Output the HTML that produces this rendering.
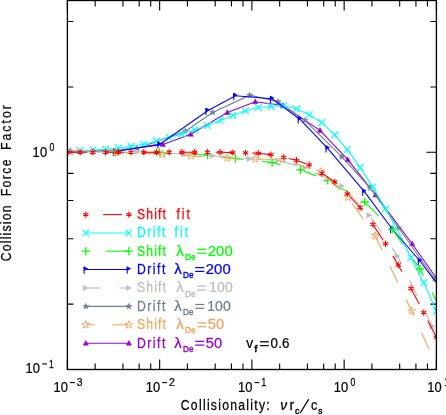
<!DOCTYPE html>
<html><head><meta charset="utf-8"><title>Collision Force Factor</title>
<style>html,body{margin:0;padding:0;background:#fff;}body{width:446px;height:415px;overflow:hidden;}svg{display:block;}text{font-family:"Liberation Sans",sans-serif;}</style></head><body>
<svg width="446" height="415" viewBox="0 0 446 415">
<rect width="446" height="415" fill="#fff"/>
<defs><clipPath id="cp"><rect x="67.40" y="0.50" width="369.00" height="369.00"/></clipPath></defs>
<path d="M67.40 369.50 v-10.00 M67.40 0.50 v10.00 M95.17 369.50 v-6.00 M95.17 0.50 v6.00 M122.94 369.50 v-6.00 M122.94 0.50 v6.00 M139.18 369.50 v-6.00 M139.18 0.50 v6.00 M150.71 369.50 v-6.00 M150.71 0.50 v6.00 M159.65 369.50 v-10.00 M159.65 0.50 v10.00 M187.42 369.50 v-6.00 M187.42 0.50 v6.00 M215.19 369.50 v-6.00 M215.19 0.50 v6.00 M231.43 369.50 v-6.00 M231.43 0.50 v6.00 M242.96 369.50 v-6.00 M242.96 0.50 v6.00 M251.90 369.50 v-10.00 M251.90 0.50 v10.00 M279.67 369.50 v-6.00 M279.67 0.50 v6.00 M307.44 369.50 v-6.00 M307.44 0.50 v6.00 M323.68 369.50 v-6.00 M323.68 0.50 v6.00 M335.21 369.50 v-6.00 M335.21 0.50 v6.00 M344.15 369.50 v-10.00 M344.15 0.50 v10.00 M371.92 369.50 v-6.00 M371.92 0.50 v6.00 M399.69 369.50 v-6.00 M399.69 0.50 v6.00 M415.93 369.50 v-6.00 M415.93 0.50 v6.00 M427.46 369.50 v-6.00 M427.46 0.50 v6.00 M436.40 369.50 v-10.00 M436.40 0.50 v10.00 M67.40 369.50 h10.00 M436.40 369.50 h-10.00 M67.40 304.12 h6.00 M436.40 304.12 h-6.00 M67.40 238.74 h6.00 M436.40 238.74 h-6.00 M67.40 200.49 h6.00 M436.40 200.49 h-6.00 M67.40 173.36 h6.00 M436.40 173.36 h-6.00 M67.40 152.31 h10.00 M436.40 152.31 h-10.00 M67.40 86.93 h6.00 M436.40 86.93 h-6.00 M67.40 21.55 h6.00 M436.40 21.55 h-6.00 " stroke="#000" stroke-width="1.1" fill="none"/>
<g clip-path="url(#cp)">
<path d="M70.50 151.20 L114.60 151.00 L162.80 144.40 L190.80 134.30 L227.30 112.50 L255.30 101.70 L282.90 105.50 L320.00 130.40 L347.80 159.70 L375.60 194.90 L412.10 243.70 L439.90 283.00" fill="none" stroke="#9400d3" stroke-width="1.10"/>
<path d="M70.50 148.40 L73.10 153.20 L67.90 153.20 Z" fill="#9400d3" stroke="#9400d3" stroke-width="0.5"/>
<path d="M114.60 148.20 L117.20 153.00 L112.00 153.00 Z" fill="#9400d3" stroke="#9400d3" stroke-width="0.5"/>
<path d="M162.80 141.60 L165.40 146.40 L160.20 146.40 Z" fill="#9400d3" stroke="#9400d3" stroke-width="0.5"/>
<path d="M190.80 131.50 L193.40 136.30 L188.20 136.30 Z" fill="#9400d3" stroke="#9400d3" stroke-width="0.5"/>
<path d="M227.30 109.70 L229.90 114.50 L224.70 114.50 Z" fill="#9400d3" stroke="#9400d3" stroke-width="0.5"/>
<path d="M255.30 98.90 L257.90 103.70 L252.70 103.70 Z" fill="#9400d3" stroke="#9400d3" stroke-width="0.5"/>
<path d="M282.90 102.70 L285.50 107.50 L280.30 107.50 Z" fill="#9400d3" stroke="#9400d3" stroke-width="0.5"/>
<path d="M320.00 127.60 L322.60 132.40 L317.40 132.40 Z" fill="#9400d3" stroke="#9400d3" stroke-width="0.5"/>
<path d="M347.80 156.90 L350.40 161.70 L345.20 161.70 Z" fill="#9400d3" stroke="#9400d3" stroke-width="0.5"/>
<path d="M375.60 192.10 L378.20 196.90 L373.00 196.90 Z" fill="#9400d3" stroke="#9400d3" stroke-width="0.5"/>
<path d="M412.10 240.90 L414.70 245.70 L409.50 245.70 Z" fill="#9400d3" stroke="#9400d3" stroke-width="0.5"/>
<path d="M439.90 280.20 L442.50 285.00 L437.30 285.00 Z" fill="#9400d3" stroke="#9400d3" stroke-width="0.5"/>
<path d="M93.00 151.30 L137.10 148.40 L185.30 131.20 L212.70 112.50 L249.70 95.20 L278.10 101.70 L305.00 120.40 L341.90 156.80 L370.00 187.80 L398.70 228.00 L434.60 278.50 L462.00 320.00" fill="none" stroke="#708090" stroke-width="1.10"/>
<path d="M93.00 148.10 L93.79 150.21 L96.04 150.31 L94.28 151.72 L94.88 153.89 L93.00 152.64 L91.12 153.89 L91.72 151.72 L89.96 150.31 L92.21 150.21 Z" fill="#708090" stroke="#708090" stroke-width="0.5"/>
<path d="M137.10 145.20 L137.89 147.31 L140.14 147.41 L138.38 148.82 L138.98 150.99 L137.10 149.74 L135.22 150.99 L135.82 148.82 L134.06 147.41 L136.31 147.31 Z" fill="#708090" stroke="#708090" stroke-width="0.5"/>
<path d="M185.30 128.00 L186.09 130.11 L188.34 130.21 L186.58 131.62 L187.18 133.79 L185.30 132.54 L183.42 133.79 L184.02 131.62 L182.26 130.21 L184.51 130.11 Z" fill="#708090" stroke="#708090" stroke-width="0.5"/>
<path d="M212.70 109.30 L213.49 111.41 L215.74 111.51 L213.98 112.92 L214.58 115.09 L212.70 113.84 L210.82 115.09 L211.42 112.92 L209.66 111.51 L211.91 111.41 Z" fill="#708090" stroke="#708090" stroke-width="0.5"/>
<path d="M249.70 92.00 L250.49 94.11 L252.74 94.21 L250.98 95.62 L251.58 97.79 L249.70 96.54 L247.82 97.79 L248.42 95.62 L246.66 94.21 L248.91 94.11 Z" fill="#708090" stroke="#708090" stroke-width="0.5"/>
<path d="M278.10 98.50 L278.89 100.61 L281.14 100.71 L279.38 102.12 L279.98 104.29 L278.10 103.04 L276.22 104.29 L276.82 102.12 L275.06 100.71 L277.31 100.61 Z" fill="#708090" stroke="#708090" stroke-width="0.5"/>
<path d="M305.00 117.20 L305.79 119.31 L308.04 119.41 L306.28 120.82 L306.88 122.99 L305.00 121.74 L303.12 122.99 L303.72 120.82 L301.96 119.41 L304.21 119.31 Z" fill="#708090" stroke="#708090" stroke-width="0.5"/>
<path d="M341.90 153.60 L342.69 155.71 L344.94 155.81 L343.18 157.22 L343.78 159.39 L341.90 158.14 L340.02 159.39 L340.62 157.22 L338.86 155.81 L341.11 155.71 Z" fill="#708090" stroke="#708090" stroke-width="0.5"/>
<path d="M370.00 184.60 L370.79 186.71 L373.04 186.81 L371.28 188.22 L371.88 190.39 L370.00 189.14 L368.12 190.39 L368.72 188.22 L366.96 186.81 L369.21 186.71 Z" fill="#708090" stroke="#708090" stroke-width="0.5"/>
<path d="M398.70 224.80 L399.49 226.91 L401.74 227.01 L399.98 228.42 L400.58 230.59 L398.70 229.34 L396.82 230.59 L397.42 228.42 L395.66 227.01 L397.91 226.91 Z" fill="#708090" stroke="#708090" stroke-width="0.5"/>
<path d="M434.60 275.30 L435.39 277.41 L437.64 277.51 L435.88 278.92 L436.48 281.09 L434.60 279.84 L432.72 281.09 L433.32 278.92 L431.56 277.51 L433.81 277.41 Z" fill="#708090" stroke="#708090" stroke-width="0.5"/>
<path d="M462.00 316.80 L462.79 318.91 L465.04 319.01 L463.28 320.42 L463.88 322.59 L462.00 321.34 L460.12 322.59 L460.72 320.42 L458.96 319.01 L461.21 318.91 Z" fill="#708090" stroke="#708090" stroke-width="0.5"/>
<path d="M67.40 150.70 L80.12 150.50 L92.85 150.00 L105.58 149.20 L118.30 148.00 L131.03 146.40 L143.75 144.30 L156.48 141.00 L169.20 137.50 L181.93 133.90 L194.65 129.80 L207.38 125.50 L220.10 120.40 L232.82 115.40 L245.55 110.80 L258.27 107.50 L271.00 106.50 L283.73 105.80 L296.45 108.70 L309.18 114.80 L321.90 122.60 L334.62 134.90 L347.35 149.60 L360.08 167.40 L372.80 187.10 L385.52 208.70 L398.25 231.40 L410.98 257.80 L423.70 282.80 L436.42 311.00" fill="none" stroke="#00ffff" stroke-width="1.10"/>
<path d="M64.00 147.30 L70.80 154.10 M64.00 154.10 L70.80 147.30" stroke="#00ffff" stroke-width="1.2" fill="none"/>
<path d="M76.72 147.10 L83.53 153.90 M76.72 153.90 L83.53 147.10" stroke="#00ffff" stroke-width="1.2" fill="none"/>
<path d="M89.45 146.60 L96.25 153.40 M89.45 153.40 L96.25 146.60" stroke="#00ffff" stroke-width="1.2" fill="none"/>
<path d="M102.17 145.80 L108.98 152.60 M102.17 152.60 L108.98 145.80" stroke="#00ffff" stroke-width="1.2" fill="none"/>
<path d="M114.90 144.60 L121.70 151.40 M114.90 151.40 L121.70 144.60" stroke="#00ffff" stroke-width="1.2" fill="none"/>
<path d="M127.62 143.00 L134.43 149.80 M127.62 149.80 L134.43 143.00" stroke="#00ffff" stroke-width="1.2" fill="none"/>
<path d="M140.35 140.90 L147.15 147.70 M140.35 147.70 L147.15 140.90" stroke="#00ffff" stroke-width="1.2" fill="none"/>
<path d="M153.08 137.60 L159.88 144.40 M153.08 144.40 L159.88 137.60" stroke="#00ffff" stroke-width="1.2" fill="none"/>
<path d="M165.80 134.10 L172.60 140.90 M165.80 140.90 L172.60 134.10" stroke="#00ffff" stroke-width="1.2" fill="none"/>
<path d="M178.53 130.50 L185.33 137.30 M178.53 137.30 L185.33 130.50" stroke="#00ffff" stroke-width="1.2" fill="none"/>
<path d="M191.25 126.40 L198.05 133.20 M191.25 133.20 L198.05 126.40" stroke="#00ffff" stroke-width="1.2" fill="none"/>
<path d="M203.97 122.10 L210.78 128.90 M203.97 128.90 L210.78 122.10" stroke="#00ffff" stroke-width="1.2" fill="none"/>
<path d="M216.70 117.00 L223.50 123.80 M216.70 123.80 L223.50 117.00" stroke="#00ffff" stroke-width="1.2" fill="none"/>
<path d="M229.42 112.00 L236.22 118.80 M229.42 118.80 L236.22 112.00" stroke="#00ffff" stroke-width="1.2" fill="none"/>
<path d="M242.15 107.40 L248.95 114.20 M242.15 114.20 L248.95 107.40" stroke="#00ffff" stroke-width="1.2" fill="none"/>
<path d="M254.87 104.10 L261.67 110.90 M254.87 110.90 L261.67 104.10" stroke="#00ffff" stroke-width="1.2" fill="none"/>
<path d="M267.60 103.10 L274.40 109.90 M267.60 109.90 L274.40 103.10" stroke="#00ffff" stroke-width="1.2" fill="none"/>
<path d="M280.33 102.40 L287.12 109.20 M280.33 109.20 L287.12 102.40" stroke="#00ffff" stroke-width="1.2" fill="none"/>
<path d="M293.05 105.30 L299.85 112.10 M293.05 112.10 L299.85 105.30" stroke="#00ffff" stroke-width="1.2" fill="none"/>
<path d="M305.78 111.40 L312.57 118.20 M305.78 118.20 L312.57 111.40" stroke="#00ffff" stroke-width="1.2" fill="none"/>
<path d="M318.50 119.20 L325.30 126.00 M318.50 126.00 L325.30 119.20" stroke="#00ffff" stroke-width="1.2" fill="none"/>
<path d="M331.23 131.50 L338.02 138.30 M331.23 138.30 L338.02 131.50" stroke="#00ffff" stroke-width="1.2" fill="none"/>
<path d="M343.95 146.20 L350.75 153.00 M343.95 153.00 L350.75 146.20" stroke="#00ffff" stroke-width="1.2" fill="none"/>
<path d="M356.68 164.00 L363.48 170.80 M356.68 170.80 L363.48 164.00" stroke="#00ffff" stroke-width="1.2" fill="none"/>
<path d="M369.40 183.70 L376.20 190.50 M369.40 190.50 L376.20 183.70" stroke="#00ffff" stroke-width="1.2" fill="none"/>
<path d="M382.12 205.30 L388.92 212.10 M382.12 212.10 L388.92 205.30" stroke="#00ffff" stroke-width="1.2" fill="none"/>
<path d="M407.58 254.40 L414.38 261.20 M407.58 261.20 L414.38 254.40" stroke="#00ffff" stroke-width="1.2" fill="none"/>
<path d="M420.30 279.40 L427.10 286.20 M420.30 286.20 L427.10 279.40" stroke="#00ffff" stroke-width="1.2" fill="none"/>
<path d="M433.02 307.60 L439.82 314.40 M433.02 314.40 L439.82 307.60" stroke="#00ffff" stroke-width="1.2" fill="none"/>
<path d="M115.30 151.50 L159.60 144.40 L207.60 110.70 L235.40 95.80 L272.10 98.80 L299.90 119.20 L327.70 148.40 L364.40 191.60 L392.20 229.00 L420.00 261.00 L456.60 309.60" fill="none" stroke="#0000ff" stroke-width="1.10"/>
<path d="M113.60 148.80 L113.60 155.70" stroke="#0000ff" stroke-width="1.1" fill="none"/><path d="M113.60 148.80 L117.10 150.60 L113.60 152.50 Z" fill="#0000ff" stroke="#0000ff" stroke-width="0.6"/>
<path d="M157.90 141.70 L157.90 148.60" stroke="#0000ff" stroke-width="1.1" fill="none"/><path d="M157.90 141.70 L161.40 143.50 L157.90 145.40 Z" fill="#0000ff" stroke="#0000ff" stroke-width="0.6"/>
<path d="M205.90 108.00 L205.90 114.90" stroke="#0000ff" stroke-width="1.1" fill="none"/><path d="M205.90 108.00 L209.40 109.80 L205.90 111.70 Z" fill="#0000ff" stroke="#0000ff" stroke-width="0.6"/>
<path d="M233.70 93.10 L233.70 100.00" stroke="#0000ff" stroke-width="1.1" fill="none"/><path d="M233.70 93.10 L237.20 94.90 L233.70 96.80 Z" fill="#0000ff" stroke="#0000ff" stroke-width="0.6"/>
<path d="M270.40 96.10 L270.40 103.00" stroke="#0000ff" stroke-width="1.1" fill="none"/><path d="M270.40 96.10 L273.90 97.90 L270.40 99.80 Z" fill="#0000ff" stroke="#0000ff" stroke-width="0.6"/>
<path d="M298.20 116.50 L298.20 123.40" stroke="#0000ff" stroke-width="1.1" fill="none"/><path d="M298.20 116.50 L301.70 118.30 L298.20 120.20 Z" fill="#0000ff" stroke="#0000ff" stroke-width="0.6"/>
<path d="M326.00 145.70 L326.00 152.60" stroke="#0000ff" stroke-width="1.1" fill="none"/><path d="M326.00 145.70 L329.50 147.50 L326.00 149.40 Z" fill="#0000ff" stroke="#0000ff" stroke-width="0.6"/>
<path d="M362.70 188.90 L362.70 195.80" stroke="#0000ff" stroke-width="1.1" fill="none"/><path d="M362.70 188.90 L366.20 190.70 L362.70 192.60 Z" fill="#0000ff" stroke="#0000ff" stroke-width="0.6"/>
<path d="M390.50 226.30 L390.50 233.20" stroke="#0000ff" stroke-width="1.1" fill="none"/><path d="M390.50 226.30 L394.00 228.10 L390.50 230.00 Z" fill="#0000ff" stroke="#0000ff" stroke-width="0.6"/>
<path d="M418.30 258.30 L418.30 265.20" stroke="#0000ff" stroke-width="1.1" fill="none"/><path d="M418.30 258.30 L421.80 260.10 L418.30 262.00 Z" fill="#0000ff" stroke="#0000ff" stroke-width="0.6"/>
<path d="M454.90 306.90 L454.90 313.80" stroke="#0000ff" stroke-width="1.1" fill="none"/><path d="M454.90 306.90 L458.40 308.70 L454.90 310.60 Z" fill="#0000ff" stroke="#0000ff" stroke-width="0.6"/>
<path d="M115.30 152.20 L159.60 152.40 L207.60 155.10 L235.40 158.50 L272.10 162.50 L300.50 169.80 L327.70 180.40 L364.60 202.00 L392.20 229.10 L420.00 269.00 L456.60 340.00" fill="none" stroke="#00ff00" stroke-width="1.10" stroke-dasharray="18.6 18.9" stroke-dashoffset="2.75"/>
<path d="M111.10 152.20 L119.50 152.20 M115.30 148.00 L115.30 156.40" stroke="#00ff00" stroke-width="1.3" fill="none"/>
<path d="M155.40 152.40 L163.80 152.40 M159.60 148.20 L159.60 156.60" stroke="#00ff00" stroke-width="1.3" fill="none"/>
<path d="M203.40 155.10 L211.80 155.10 M207.60 150.90 L207.60 159.30" stroke="#00ff00" stroke-width="1.3" fill="none"/>
<path d="M231.20 158.50 L239.60 158.50 M235.40 154.30 L235.40 162.70" stroke="#00ff00" stroke-width="1.3" fill="none"/>
<path d="M267.90 162.50 L276.30 162.50 M272.10 158.30 L272.10 166.70" stroke="#00ff00" stroke-width="1.3" fill="none"/>
<path d="M296.30 169.80 L304.70 169.80 M300.50 165.60 L300.50 174.00" stroke="#00ff00" stroke-width="1.3" fill="none"/>
<path d="M323.50 180.40 L331.90 180.40 M327.70 176.20 L327.70 184.60" stroke="#00ff00" stroke-width="1.3" fill="none"/>
<path d="M360.40 202.00 L368.80 202.00 M364.60 197.80 L364.60 206.20" stroke="#00ff00" stroke-width="1.3" fill="none"/>
<path d="M388.00 229.10 L396.40 229.10 M392.20 224.90 L392.20 233.30" stroke="#00ff00" stroke-width="1.3" fill="none"/>
<path d="M415.80 269.00 L424.20 269.00 M420.00 264.80 L420.00 273.20" stroke="#00ff00" stroke-width="1.3" fill="none"/>
<path d="M452.40 340.00 L460.80 340.00 M456.60 335.80 L456.60 344.20" stroke="#00ff00" stroke-width="1.3" fill="none"/>
<path d="M93.00 152.20 L137.10 151.90 L185.30 154.30 L212.70 155.80 L249.50 158.90 L278.10 160.50 L305.00 168.00 L342.00 186.00 L369.50 215.20 L397.60 256.00 L432.30 326.00 L460.00 385.00" fill="none" stroke="#bebebe" stroke-width="1.10" stroke-dasharray="18.0 18.7" stroke-dashoffset="32.81"/>
<path d="M90.40 149.40 L95.50 152.20 L90.40 155.00 Z" fill="#bebebe" stroke="#bebebe" stroke-width="0.5"/>
<path d="M134.50 149.10 L139.60 151.90 L134.50 154.70 Z" fill="#bebebe" stroke="#bebebe" stroke-width="0.5"/>
<path d="M182.70 151.50 L187.80 154.30 L182.70 157.10 Z" fill="#bebebe" stroke="#bebebe" stroke-width="0.5"/>
<path d="M210.10 153.00 L215.20 155.80 L210.10 158.60 Z" fill="#bebebe" stroke="#bebebe" stroke-width="0.5"/>
<path d="M246.90 156.10 L252.00 158.90 L246.90 161.70 Z" fill="#bebebe" stroke="#bebebe" stroke-width="0.5"/>
<path d="M275.50 157.70 L280.60 160.50 L275.50 163.30 Z" fill="#bebebe" stroke="#bebebe" stroke-width="0.5"/>
<path d="M302.40 165.20 L307.50 168.00 L302.40 170.80 Z" fill="#bebebe" stroke="#bebebe" stroke-width="0.5"/>
<path d="M339.40 183.20 L344.50 186.00 L339.40 188.80 Z" fill="#bebebe" stroke="#bebebe" stroke-width="0.5"/>
<path d="M366.90 212.40 L372.00 215.20 L366.90 218.00 Z" fill="#bebebe" stroke="#bebebe" stroke-width="0.5"/>
<path d="M395.00 253.20 L400.10 256.00 L395.00 258.80 Z" fill="#bebebe" stroke="#bebebe" stroke-width="0.5"/>
<path d="M429.70 323.20 L434.80 326.00 L429.70 328.80 Z" fill="#bebebe" stroke="#bebebe" stroke-width="0.5"/>
<path d="M457.40 382.20 L462.50 385.00 L457.40 387.80 Z" fill="#bebebe" stroke="#bebebe" stroke-width="0.5"/>
<path d="M70.50 151.80 L114.60 152.20 L162.50 154.30 L191.00 156.00 L227.30 158.00 L255.20 158.90 L282.60 159.60 L320.50 171.80 L347.80 197.20 L375.10 235.90 L411.70 311.00 L439.50 372.00" fill="none" stroke="#f4a460" stroke-width="1.10" stroke-dasharray="18.4 18.3" stroke-dashoffset="33.18"/>
<path d="M70.50 147.60 L71.54 150.37 L74.49 150.50 L72.18 152.35 L72.97 155.20 L70.50 153.56 L68.03 155.20 L68.82 152.35 L66.51 150.50 L69.46 150.37 Z" fill="none" stroke="#f4a460" stroke-width="0.9"/>
<path d="M114.60 148.00 L115.64 150.77 L118.59 150.90 L116.28 152.75 L117.07 155.60 L114.60 153.96 L112.13 155.60 L112.92 152.75 L110.61 150.90 L113.56 150.77 Z" fill="none" stroke="#f4a460" stroke-width="0.9"/>
<path d="M162.50 150.10 L163.54 152.87 L166.49 153.00 L164.18 154.85 L164.97 157.70 L162.50 156.06 L160.03 157.70 L160.82 154.85 L158.51 153.00 L161.46 152.87 Z" fill="none" stroke="#f4a460" stroke-width="0.9"/>
<path d="M191.00 151.80 L192.04 154.57 L194.99 154.70 L192.68 156.55 L193.47 159.40 L191.00 157.76 L188.53 159.40 L189.32 156.55 L187.01 154.70 L189.96 154.57 Z" fill="none" stroke="#f4a460" stroke-width="0.9"/>
<path d="M227.30 153.80 L228.34 156.57 L231.29 156.70 L228.98 158.55 L229.77 161.40 L227.30 159.76 L224.83 161.40 L225.62 158.55 L223.31 156.70 L226.26 156.57 Z" fill="none" stroke="#f4a460" stroke-width="0.9"/>
<path d="M255.20 154.70 L256.24 157.47 L259.19 157.60 L256.88 159.45 L257.67 162.30 L255.20 160.66 L252.73 162.30 L253.52 159.45 L251.21 157.60 L254.16 157.47 Z" fill="none" stroke="#f4a460" stroke-width="0.9"/>
<path d="M282.60 155.40 L283.64 158.17 L286.59 158.30 L284.28 160.15 L285.07 163.00 L282.60 161.36 L280.13 163.00 L280.92 160.15 L278.61 158.30 L281.56 158.17 Z" fill="none" stroke="#f4a460" stroke-width="0.9"/>
<path d="M320.50 167.60 L321.54 170.37 L324.49 170.50 L322.18 172.35 L322.97 175.20 L320.50 173.56 L318.03 175.20 L318.82 172.35 L316.51 170.50 L319.46 170.37 Z" fill="none" stroke="#f4a460" stroke-width="0.9"/>
<path d="M347.80 193.00 L348.84 195.77 L351.79 195.90 L349.48 197.75 L350.27 200.60 L347.80 198.96 L345.33 200.60 L346.12 197.75 L343.81 195.90 L346.76 195.77 Z" fill="none" stroke="#f4a460" stroke-width="0.9"/>
<path d="M375.10 231.70 L376.14 234.47 L379.09 234.60 L376.78 236.45 L377.57 239.30 L375.10 237.66 L372.63 239.30 L373.42 236.45 L371.11 234.60 L374.06 234.47 Z" fill="none" stroke="#f4a460" stroke-width="0.9"/>
<path d="M411.70 306.80 L412.74 309.57 L415.69 309.70 L413.38 311.55 L414.17 314.40 L411.70 312.76 L409.23 314.40 L410.02 311.55 L407.71 309.70 L410.66 309.57 Z" fill="none" stroke="#f4a460" stroke-width="0.9"/>
<path d="M439.50 367.80 L440.54 370.57 L443.49 370.70 L441.18 372.55 L441.97 375.40 L439.50 373.76 L437.03 375.40 L437.82 372.55 L435.51 370.70 L438.46 370.57 Z" fill="none" stroke="#f4a460" stroke-width="0.9"/>
<path d="M67.40 152.20 L80.12 152.20 L92.85 152.20 L105.58 152.20 L118.30 152.20 L131.03 152.20 L143.75 152.20 L156.48 152.20 L169.20 152.20 L181.93 152.20 L194.65 152.20 L207.38 152.20 L220.10 152.30 L232.82 152.60 L245.55 152.90 L258.27 153.30 L271.00 154.70 L283.73 157.40 L296.45 160.30 L309.18 164.80 L321.90 173.20 L334.62 181.90 L347.35 193.80 L360.08 207.50 L372.80 224.40 L385.52 243.70 L398.25 265.00 L410.98 288.40 L423.70 312.60 L436.42 337.30" fill="none" stroke="#ff0000" stroke-width="1.10" stroke-dasharray="18.3 18.4" stroke-dashoffset="35.20"/>
<path d="M67.40 149.00 L67.40 155.40 M64.75 150.79 L70.05 153.61 M70.05 150.79 L64.75 153.61 " stroke="#ff0000" stroke-width="1.1" fill="none"/>
<path d="M80.12 149.00 L80.12 155.40 M77.48 150.79 L82.77 153.61 M82.77 150.79 L77.48 153.61 " stroke="#ff0000" stroke-width="1.1" fill="none"/>
<path d="M92.85 149.00 L92.85 155.40 M90.20 150.79 L95.50 153.61 M95.50 150.79 L90.20 153.61 " stroke="#ff0000" stroke-width="1.1" fill="none"/>
<path d="M105.58 149.00 L105.58 155.40 M102.93 150.79 L108.22 153.61 M108.22 150.79 L102.93 153.61 " stroke="#ff0000" stroke-width="1.1" fill="none"/>
<path d="M118.30 149.00 L118.30 155.40 M115.65 150.79 L120.95 153.61 M120.95 150.79 L115.65 153.61 " stroke="#ff0000" stroke-width="1.1" fill="none"/>
<path d="M131.03 149.00 L131.03 155.40 M128.38 150.79 L133.67 153.61 M133.67 150.79 L128.38 153.61 " stroke="#ff0000" stroke-width="1.1" fill="none"/>
<path d="M143.75 149.00 L143.75 155.40 M141.10 150.79 L146.40 153.61 M146.40 150.79 L141.10 153.61 " stroke="#ff0000" stroke-width="1.1" fill="none"/>
<path d="M156.48 149.00 L156.48 155.40 M153.83 150.79 L159.12 153.61 M159.12 150.79 L153.83 153.61 " stroke="#ff0000" stroke-width="1.1" fill="none"/>
<path d="M169.20 149.00 L169.20 155.40 M166.55 150.79 L171.85 153.61 M171.85 150.79 L166.55 153.61 " stroke="#ff0000" stroke-width="1.1" fill="none"/>
<path d="M181.93 149.00 L181.93 155.40 M179.28 150.79 L184.57 153.61 M184.57 150.79 L179.28 153.61 " stroke="#ff0000" stroke-width="1.1" fill="none"/>
<path d="M194.65 149.00 L194.65 155.40 M192.00 150.79 L197.30 153.61 M197.30 150.79 L192.00 153.61 " stroke="#ff0000" stroke-width="1.1" fill="none"/>
<path d="M207.38 149.00 L207.38 155.40 M204.73 150.79 L210.02 153.61 M210.02 150.79 L204.73 153.61 " stroke="#ff0000" stroke-width="1.1" fill="none"/>
<path d="M220.10 149.10 L220.10 155.50 M217.45 150.89 L222.75 153.71 M222.75 150.89 L217.45 153.71 " stroke="#ff0000" stroke-width="1.1" fill="none"/>
<path d="M232.82 149.40 L232.82 155.80 M230.18 151.19 L235.47 154.01 M235.47 151.19 L230.18 154.01 " stroke="#ff0000" stroke-width="1.1" fill="none"/>
<path d="M245.55 149.70 L245.55 156.10 M242.90 151.49 L248.20 154.31 M248.20 151.49 L242.90 154.31 " stroke="#ff0000" stroke-width="1.1" fill="none"/>
<path d="M258.27 150.10 L258.27 156.50 M255.63 151.89 L260.92 154.71 M260.92 151.89 L255.63 154.71 " stroke="#ff0000" stroke-width="1.1" fill="none"/>
<path d="M271.00 151.50 L271.00 157.90 M268.35 153.29 L273.65 156.11 M273.65 153.29 L268.35 156.11 " stroke="#ff0000" stroke-width="1.1" fill="none"/>
<path d="M283.73 154.20 L283.73 160.60 M281.08 155.99 L286.37 158.81 M286.37 155.99 L281.08 158.81 " stroke="#ff0000" stroke-width="1.1" fill="none"/>
<path d="M296.45 157.10 L296.45 163.50 M293.80 158.89 L299.10 161.71 M299.10 158.89 L293.80 161.71 " stroke="#ff0000" stroke-width="1.1" fill="none"/>
<path d="M309.18 161.60 L309.18 168.00 M306.53 163.39 L311.82 166.21 M311.82 163.39 L306.53 166.21 " stroke="#ff0000" stroke-width="1.1" fill="none"/>
<path d="M321.90 170.00 L321.90 176.40 M319.25 171.79 L324.55 174.61 M324.55 171.79 L319.25 174.61 " stroke="#ff0000" stroke-width="1.1" fill="none"/>
<path d="M334.62 178.70 L334.62 185.10 M331.98 180.49 L337.27 183.31 M337.27 180.49 L331.98 183.31 " stroke="#ff0000" stroke-width="1.1" fill="none"/>
<path d="M347.35 190.60 L347.35 197.00 M344.70 192.39 L350.00 195.21 M350.00 192.39 L344.70 195.21 " stroke="#ff0000" stroke-width="1.1" fill="none"/>
<path d="M360.08 204.30 L360.08 210.70 M357.43 206.09 L362.72 208.91 M362.72 206.09 L357.43 208.91 " stroke="#ff0000" stroke-width="1.1" fill="none"/>
<path d="M372.80 221.20 L372.80 227.60 M370.15 222.99 L375.45 225.81 M375.45 222.99 L370.15 225.81 " stroke="#ff0000" stroke-width="1.1" fill="none"/>
<path d="M385.52 240.50 L385.52 246.90 M382.88 242.29 L388.17 245.11 M388.17 242.29 L382.88 245.11 " stroke="#ff0000" stroke-width="1.1" fill="none"/>
<path d="M398.25 261.80 L398.25 268.20 M395.60 263.59 L400.90 266.41 M400.90 263.59 L395.60 266.41 " stroke="#ff0000" stroke-width="1.1" fill="none"/>
<path d="M410.98 285.20 L410.98 291.60 M408.33 286.99 L413.62 289.81 M413.62 286.99 L408.33 289.81 " stroke="#ff0000" stroke-width="1.1" fill="none"/>
<path d="M423.70 309.40 L423.70 315.80 M421.05 311.19 L426.35 314.01 M426.35 311.19 L421.05 314.01 " stroke="#ff0000" stroke-width="1.1" fill="none"/>
<path d="M436.42 334.10 L436.42 340.50 M433.78 335.89 L439.07 338.71 M439.07 335.89 L433.78 338.71 " stroke="#ff0000" stroke-width="1.1" fill="none"/>
</g>
<g opacity="0.999">
<path d="M103.20 214.60 L122.10 214.60" stroke="#ff0000" stroke-width="1.10"/>
<path d="M85.80 211.40 L85.80 217.80 M83.15 213.19 L88.45 216.01 M88.45 213.19 L83.15 216.01 " stroke="#ff0000" stroke-width="1.1" fill="none"/>
<path d="M128.90 211.40 L128.90 217.80 M126.25 213.19 L131.55 216.01 M131.55 213.19 L126.25 216.01 " stroke="#ff0000" stroke-width="1.1" fill="none"/>
<text transform="translate(136.90 219.00) scale(0.8700 1)" font-size="14" fill="#ff0000" stroke="#ff0000" stroke-width="0.25" letter-spacing="1.359">Shift</text>
<text transform="translate(176.40 219.00) scale(0.8700 1)" font-size="14" fill="#ff0000" stroke="#ff0000" stroke-width="0.25" letter-spacing="2.370">fit</text>
<path d="M85.80 233.00 L128.90 233.00" stroke="#00ffff" stroke-width="1.10"/>
<path d="M82.40 229.60 L89.20 236.40 M82.40 236.40 L89.20 229.60" stroke="#00ffff" stroke-width="1.2" fill="none"/>
<path d="M125.50 229.60 L132.30 236.40 M125.50 236.40 L132.30 229.60" stroke="#00ffff" stroke-width="1.2" fill="none"/>
<text transform="translate(136.90 237.40) scale(0.8700 1)" font-size="14" fill="#00ffff" stroke="#00ffff" stroke-width="0.25" letter-spacing="1.745">Drift</text>
<text transform="translate(174.40 237.40) scale(0.8700 1)" font-size="14" fill="#00ffff" stroke="#00ffff" stroke-width="0.25" letter-spacing="2.485">fit</text>
<path d="M105.90 251.20 L128.90 251.20" stroke="#00ff00" stroke-width="1.10"/>
<path d="M81.60 251.20 L90.00 251.20 M85.80 247.00 L85.80 255.40" stroke="#00ff00" stroke-width="1.3" fill="none"/>
<path d="M124.70 251.20 L133.10 251.20 M128.90 247.00 L128.90 255.40" stroke="#00ff00" stroke-width="1.3" fill="none"/>
<text transform="translate(136.90 255.60) scale(0.8700 1)" font-size="14" fill="#00ff00" stroke="#00ff00" stroke-width="0.25" letter-spacing="1.359">Shift</text>
<text transform="translate(176.30 255.60) scale(1.0714 1)" font-size="14" fill="#00ff00" stroke="#00ff00" stroke-width="0.25" letter-spacing="0.000">λ</text>
<text transform="translate(184.90 259.80) scale(0.8543 1)" font-size="9.5" fill="#00ff00" stroke="#00ff00" stroke-width="0.45" letter-spacing="0.150">De</text>
<path d="M197.20 249.30 H206.30" stroke="#00ff00" stroke-width="1.25" fill="none"/><path d="M197.20 253.10 H206.30" stroke="#00ff00" stroke-width="1.25" fill="none"/>
<text transform="translate(207.70 255.60) scale(1.0612 1)" font-size="14" fill="#00ff00" stroke="#00ff00" stroke-width="0.25" letter-spacing="0.150">200</text>
<path d="M85.80 269.50 L128.90 269.50" stroke="#0000ff" stroke-width="1.10"/>
<path d="M84.10 266.80 L84.10 273.70" stroke="#0000ff" stroke-width="1.1" fill="none"/><path d="M84.10 266.80 L87.60 268.60 L84.10 270.50 Z" fill="#0000ff" stroke="#0000ff" stroke-width="0.6"/>
<path d="M127.20 266.80 L127.20 273.70" stroke="#0000ff" stroke-width="1.1" fill="none"/><path d="M127.20 266.80 L130.70 268.60 L127.20 270.50 Z" fill="#0000ff" stroke="#0000ff" stroke-width="0.6"/>
<text transform="translate(136.90 273.90) scale(0.8700 1)" font-size="14" fill="#0000ff" stroke="#0000ff" stroke-width="0.25" letter-spacing="1.745">Drift</text>
<text transform="translate(174.30 273.90) scale(1.0714 1)" font-size="14" fill="#0000ff" stroke="#0000ff" stroke-width="0.25" letter-spacing="0.000">λ</text>
<text transform="translate(182.90 278.10) scale(0.8543 1)" font-size="9.5" fill="#0000ff" stroke="#0000ff" stroke-width="0.45" letter-spacing="0.150">De</text>
<path d="M195.20 267.60 H204.30" stroke="#0000ff" stroke-width="1.25" fill="none"/><path d="M195.20 271.40 H204.30" stroke="#0000ff" stroke-width="1.25" fill="none"/>
<text transform="translate(205.70 273.90) scale(1.0612 1)" font-size="14" fill="#0000ff" stroke="#0000ff" stroke-width="0.25" letter-spacing="0.150">200</text>
<path d="M85.80 288.00 L100.90 288.00" stroke="#bebebe" stroke-width="1.10"/>
<path d="M119.00 288.00 L128.90 288.00" stroke="#bebebe" stroke-width="1.10"/>
<path d="M83.20 285.20 L88.30 288.00 L83.20 290.80 Z" fill="#bebebe" stroke="#bebebe" stroke-width="0.5"/>
<path d="M126.30 285.20 L131.40 288.00 L126.30 290.80 Z" fill="#bebebe" stroke="#bebebe" stroke-width="0.5"/>
<text transform="translate(136.90 292.40) scale(0.8700 1)" font-size="14" fill="#bebebe" stroke="#bebebe" stroke-width="0.25" letter-spacing="1.359">Shift</text>
<text transform="translate(176.30 292.40) scale(1.0714 1)" font-size="14" fill="#bebebe" stroke="#bebebe" stroke-width="0.25" letter-spacing="0.000">λ</text>
<text transform="translate(184.90 296.60) scale(0.8543 1)" font-size="9.5" fill="#bebebe" stroke="#bebebe" stroke-width="0.45" letter-spacing="0.150">De</text>
<path d="M197.20 286.10 H206.30" stroke="#bebebe" stroke-width="1.25" fill="none"/><path d="M197.20 289.90 H206.30" stroke="#bebebe" stroke-width="1.25" fill="none"/>
<text transform="translate(209.20 292.40) scale(0.9978 1)" font-size="14" fill="#bebebe" stroke="#bebebe" stroke-width="0.25" letter-spacing="0.150">100</text>
<path d="M85.80 306.40 L128.90 306.40" stroke="#708090" stroke-width="1.10"/>
<path d="M85.80 303.20 L86.59 305.31 L88.84 305.41 L87.08 306.82 L87.68 308.99 L85.80 307.74 L83.92 308.99 L84.52 306.82 L82.76 305.41 L85.01 305.31 Z" fill="#708090" stroke="#708090" stroke-width="0.5"/>
<path d="M128.90 303.20 L129.69 305.31 L131.94 305.41 L130.18 306.82 L130.78 308.99 L128.90 307.74 L127.02 308.99 L127.62 306.82 L125.86 305.41 L128.11 305.31 Z" fill="#708090" stroke="#708090" stroke-width="0.5"/>
<text transform="translate(136.90 310.80) scale(0.8700 1)" font-size="14" fill="#708090" stroke="#708090" stroke-width="0.25" letter-spacing="1.745">Drift</text>
<text transform="translate(174.30 310.80) scale(1.0714 1)" font-size="14" fill="#708090" stroke="#708090" stroke-width="0.25" letter-spacing="0.000">λ</text>
<text transform="translate(182.90 315.00) scale(0.8543 1)" font-size="9.5" fill="#708090" stroke="#708090" stroke-width="0.45" letter-spacing="0.150">De</text>
<path d="M195.20 304.50 H204.30" stroke="#708090" stroke-width="1.25" fill="none"/><path d="M195.20 308.30 H204.30" stroke="#708090" stroke-width="1.25" fill="none"/>
<text transform="translate(207.20 310.80) scale(0.9978 1)" font-size="14" fill="#708090" stroke="#708090" stroke-width="0.25" letter-spacing="0.150">100</text>
<path d="M85.80 324.80 L94.80 324.80" stroke="#f4a460" stroke-width="1.10"/>
<path d="M112.30 324.80 L128.90 324.80" stroke="#f4a460" stroke-width="1.10"/>
<path d="M85.80 320.60 L86.84 323.37 L89.79 323.50 L87.48 325.35 L88.27 328.20 L85.80 326.56 L83.33 328.20 L84.12 325.35 L81.81 323.50 L84.76 323.37 Z" fill="none" stroke="#f4a460" stroke-width="0.9"/>
<path d="M128.90 320.60 L129.94 323.37 L132.89 323.50 L130.58 325.35 L131.37 328.20 L128.90 326.56 L126.43 328.20 L127.22 325.35 L124.91 323.50 L127.86 323.37 Z" fill="none" stroke="#f4a460" stroke-width="0.9"/>
<text transform="translate(136.90 329.20) scale(0.8700 1)" font-size="14" fill="#f4a460" stroke="#f4a460" stroke-width="0.25" letter-spacing="1.359">Shift</text>
<text transform="translate(176.30 329.20) scale(1.0714 1)" font-size="14" fill="#f4a460" stroke="#f4a460" stroke-width="0.25" letter-spacing="0.000">λ</text>
<text transform="translate(184.90 333.40) scale(0.8543 1)" font-size="9.5" fill="#f4a460" stroke="#f4a460" stroke-width="0.45" letter-spacing="0.150">De</text>
<path d="M197.20 322.90 H206.30" stroke="#f4a460" stroke-width="1.25" fill="none"/><path d="M197.20 326.70 H206.30" stroke="#f4a460" stroke-width="1.25" fill="none"/>
<text transform="translate(207.70 329.20) scale(1.0498 1)" font-size="14" fill="#f4a460" stroke="#f4a460" stroke-width="0.25" letter-spacing="0.150">50</text>
<path d="M85.80 343.20 L128.90 343.20" stroke="#9400d3" stroke-width="1.10"/>
<path d="M85.80 340.40 L88.40 345.20 L83.20 345.20 Z" fill="#9400d3" stroke="#9400d3" stroke-width="0.5"/>
<path d="M128.90 340.40 L131.50 345.20 L126.30 345.20 Z" fill="#9400d3" stroke="#9400d3" stroke-width="0.5"/>
<text transform="translate(136.90 347.60) scale(0.8700 1)" font-size="14" fill="#9400d3" stroke="#9400d3" stroke-width="0.25" letter-spacing="1.745">Drift</text>
<text transform="translate(174.30 347.60) scale(1.0714 1)" font-size="14" fill="#9400d3" stroke="#9400d3" stroke-width="0.25" letter-spacing="0.000">λ</text>
<text transform="translate(182.90 351.80) scale(0.8543 1)" font-size="9.5" fill="#9400d3" stroke="#9400d3" stroke-width="0.45" letter-spacing="0.150">De</text>
<path d="M195.20 341.30 H204.30" stroke="#9400d3" stroke-width="1.25" fill="none"/><path d="M195.20 345.10 H204.30" stroke="#9400d3" stroke-width="1.25" fill="none"/>
<text transform="translate(205.70 347.60) scale(1.0498 1)" font-size="14" fill="#9400d3" stroke="#9400d3" stroke-width="0.25" letter-spacing="0.150">50</text>
<text transform="translate(246.30 348.10) scale(0.9857 1)" font-size="14" fill="#000" stroke="#000" stroke-width="0.25" letter-spacing="0.000">v</text>
<text transform="translate(254.20 352.30) scale(1.2030 1)" font-size="9.5" fill="#000" stroke="#000" stroke-width="0.45" letter-spacing="0.000">f</text>
<path d="M260.00 341.80 H268.80" stroke="#000" stroke-width="1.25" fill="none"/><path d="M260.00 345.60 H268.80" stroke="#000" stroke-width="1.25" fill="none"/>
<text transform="translate(270.60 348.10) scale(0.9514 1)" font-size="14" fill="#000" stroke="#000" stroke-width="0.25" letter-spacing="0.150">0.6</text>
<rect x="67.40" y="0.50" width="369.00" height="369.00" fill="none" stroke="#000" stroke-width="1.35"/>
<text transform="translate(53.45 392.00) scale(0.9225 1)" font-size="14" fill="#000" stroke="#000" stroke-width="0.25" letter-spacing="0.150">10</text><path d="M70.05 382.60 H74.85" stroke="#000" stroke-width="1.10" fill="none"/><text transform="translate(76.65 386.20) scale(0.9935 1)" font-size="10.5" fill="#000" stroke="#000" stroke-width="0.25" letter-spacing="0.000">3</text>
<text transform="translate(145.70 392.00) scale(0.9225 1)" font-size="14" fill="#000" stroke="#000" stroke-width="0.25" letter-spacing="0.150">10</text><path d="M162.30 382.60 H167.10" stroke="#000" stroke-width="1.10" fill="none"/><text transform="translate(168.90 386.20) scale(0.9935 1)" font-size="10.5" fill="#000" stroke="#000" stroke-width="0.25" letter-spacing="0.000">2</text>
<text transform="translate(237.95 392.00) scale(0.9225 1)" font-size="14" fill="#000" stroke="#000" stroke-width="0.25" letter-spacing="0.150">10</text><path d="M254.55 382.60 H259.35" stroke="#000" stroke-width="1.10" fill="none"/><text transform="translate(261.55 386.20) scale(0.8000 1)" font-size="10.5" fill="#000" stroke="#000" stroke-width="0.25" letter-spacing="0.000">1</text>
<text transform="translate(333.75 392.00) scale(0.9225 1)" font-size="14" fill="#000" stroke="#000" stroke-width="0.25" letter-spacing="0.150">10</text><text transform="translate(350.55 386.20) scale(0.8222 1)" font-size="10.5" fill="#000" stroke="#000" stroke-width="0.25" letter-spacing="0.000">0</text>
<text transform="translate(427.30 392.00) scale(0.9225 1)" font-size="14" fill="#000" stroke="#000" stroke-width="0.25" letter-spacing="0.150">10</text><text transform="translate(444.30 386.20) scale(0.8000 1)" font-size="10.5" fill="#000" stroke="#000" stroke-width="0.25" letter-spacing="0.000">1</text>
<text transform="translate(32.60 156.70) scale(0.9225 1)" font-size="14" fill="#000" stroke="#000" stroke-width="0.25" letter-spacing="0.150">10</text><text transform="translate(49.40 150.90) scale(0.8222 1)" font-size="10.5" fill="#000" stroke="#000" stroke-width="0.25" letter-spacing="0.000">0</text>
<text transform="translate(25.50 373.30) scale(0.9225 1)" font-size="14" fill="#000" stroke="#000" stroke-width="0.25" letter-spacing="0.150">10</text><path d="M42.10 363.90 H46.90" stroke="#000" stroke-width="1.10" fill="none"/><text transform="translate(49.10 367.50) scale(0.8000 1)" font-size="10.5" fill="#000" stroke="#000" stroke-width="0.25" letter-spacing="0.000">1</text>
<text transform="translate(180.80 409.60) scale(0.8700 1)" font-size="14" fill="#000" stroke="#000" stroke-width="0.25" letter-spacing="1.472">Collisionality:</text>
<text transform="translate(280.20 409.60) scale(0.9857 1)" font-size="14" fill="#000" stroke="#000" stroke-width="0.25" letter-spacing="0.000" font-style="italic">ν</text>
<text transform="translate(289.50 409.60) scale(1.0082 1)" font-size="14" fill="#000" stroke="#000" stroke-width="0.25" letter-spacing="0.000">r</text>
<text transform="translate(294.90 413.90) scale(0.9474 1)" font-size="9.5" fill="#000" stroke="#000" stroke-width="0.45" letter-spacing="0.000">c</text>
<path d="M300.2 413.0 L308.8 399.2" stroke="#000" stroke-width="1.25" fill="none"/>
<text transform="translate(311.00 409.60) scale(0.9000 1)" font-size="14" fill="#000" stroke="#000" stroke-width="0.25" letter-spacing="0.000">c</text>
<text transform="translate(318.30 413.90) scale(0.8632 1)" font-size="9.5" fill="#000" stroke="#000" stroke-width="0.45" letter-spacing="0.000">s</text>
<text transform="translate(11.00 261.30) rotate(-90) scale(0.8700 1)" font-size="14" fill="#000" stroke="#000" stroke-width="0.25" letter-spacing="1.418">Collision</text>
<text transform="translate(11.00 196.30) rotate(-90) scale(0.8700 1)" font-size="14" fill="#000" stroke="#000" stroke-width="0.25" letter-spacing="1.657">Force</text>
<text transform="translate(11.00 149.90) rotate(-90) scale(0.8700 1)" font-size="14" fill="#000" stroke="#000" stroke-width="0.25" letter-spacing="2.341">Factor</text>
</g>
</svg></body></html>
